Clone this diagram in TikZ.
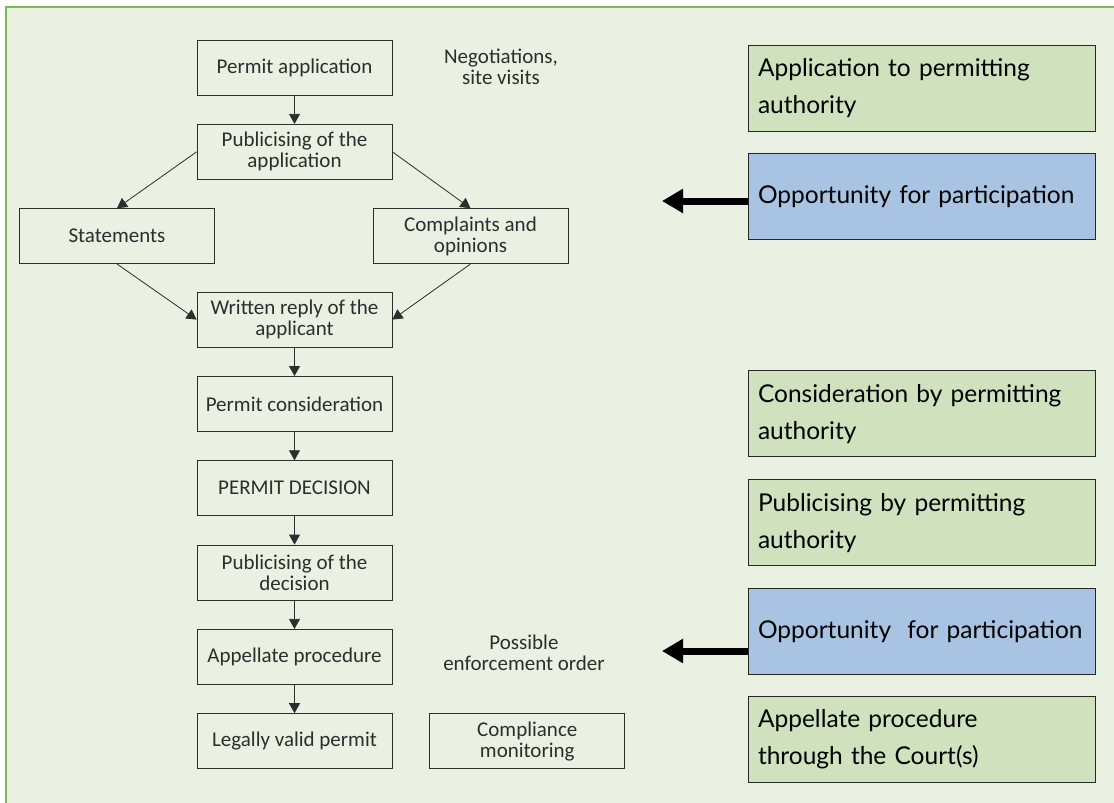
\documentclass[tikz,border=0pt]{standalone}
\usepackage{fontspec}
\setmainfont{Carlito}
\newfontfamily\sidefont{Lato}
\usepackage{xcolor}
\usetikzlibrary{positioning,arrows.meta}

\definecolor{bgGreen}{RGB}{234,241,227}
\definecolor{frameGreen}{RGB}{118,188,80}
\definecolor{sideGreen}{RGB}{207,225,189}
\definecolor{sideBlue}{RGB}{168,196,226}
\definecolor{ink}{RGB}{45,45,45}

\begin{document}
\begin{tikzpicture}[x=1pt, y=-1pt,
      node distance=28.5pt,
      stepbox/.style={draw=ink, line width=0.8pt, rectangle, minimum width=195pt,
                      minimum height=55pt, align=center, text=ink, inner sep=2pt,
                      font=\fontsize{21}{21}\selectfont},
      note/.style={align=center, text=ink, font=\fontsize{21}{21}\selectfont},
      side/.style={draw=black!85, line width=0.9pt, rectangle, minimum height=86pt,
                   text width=327pt, inner xsep=10pt, align=left,
                   font=\sidefont\fontsize{24.5}{37}\selectfont},
      arr/.style={ink, line width=0.8pt, -{Triangle[length=10pt,width=11pt]}},
      bigarr/.style={line width=7pt, -{Triangle[length=21pt,width=23pt]}},
    ]
    \useasboundingbox (0,0) rectangle (1114,803);
    \fill[bgGreen] (6,7) rectangle (1114,803);
    \draw[frameGreen, line width=1.5pt] (6,803) -- (6,7) -- (1114,7);

    % procedure column
    \node[stepbox] (papp) at (294.5,67.5) {Permit application};
    \node[stepbox, below=of papp] (pubapp) {Publicising of the\\application};
    \node[stepbox, below=of pubapp, xshift=-177.5pt] (stat) {Statements};
    \node[stepbox, below=of pubapp, xshift=176pt] (compl) {Complaints and\\opinions};
    \node[stepbox, below=112pt of pubapp] (reply) {Written reply of the\\applicant};
    \node[stepbox, below=of reply] (consid) {Permit consideration};
    \node[stepbox, below=of consid] (decis) {PERMIT DECISION};
    \node[stepbox, below=of decis] (pubdec) {Publicising of the\\decision};
    \node[stepbox, below=of pubdec] (appeal) {Appellate procedure};
    \node[stepbox, below=of appeal] (valid) {Legally valid permit};
    \node[stepbox, right=37pt of valid] (monit) {Compliance\\monitoring};
    \node[note] (negot) at (501,67) {Negotiations,\\site visits};
    \node[note] (enforce) at (524,653) {Possible\\enforcement order};

    % authority column
    \node[side, fill=sideGreen] (sapp) at (921.5,88) {Application to permitting\\authority};
    \node[side, fill=sideBlue, below=22pt of sapp] (sopp1) {Opportunity for participation};
    \node[side, fill=sideGreen, below=130pt of sopp1] (scons) {Consideration by permitting\\authority};
    \node[side, fill=sideGreen, below=22pt of scons] (spub) {Publicising by permitting\\authority};
    \node[side, fill=sideBlue, below=22pt of spub] (sopp2) {Opportunity\ \ for participation};
    \node[side, fill=sideGreen, below=21pt of sopp2] (scourt) {Appellate procedure\\through the Court(s)};

    \draw[arr] (papp) -- (pubapp);
    \draw[arr] (pubapp.west) -- (stat.north);
    \draw[arr] (pubapp.east) -- (compl.north);
    \draw[arr] (stat.south) -- (reply.west);
    \draw[arr] (compl.south) -- (reply.east);
    \draw[arr] (reply) -- (consid);
    \draw[arr] (consid) -- (decis);
    \draw[arr] (decis) -- (pubdec);
    \draw[arr] (pubdec) -- (appeal);
    \draw[arr] (appeal) -- (valid);

    % participation arrows
    \coordinate (tip1) at (662,201);
    \coordinate (tip2) at (662,651);
    \draw[bigarr] (sopp1.west |- tip1) -- (tip1);
    \draw[bigarr] (sopp2.west |- tip2) -- (tip2);
  \end{tikzpicture}
\end{document}
